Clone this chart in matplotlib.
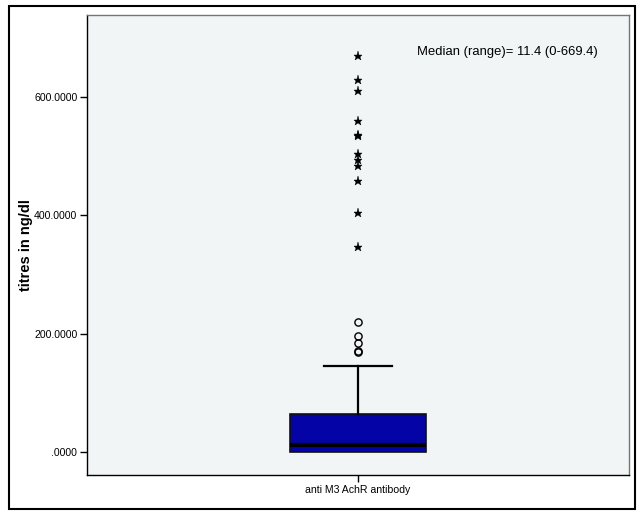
import matplotlib.pyplot as plt
from matplotlib.patches import Rectangle

plt.rcParams['font.family'] = ['Liberation Sans', 'DejaVu Sans']

# ── Data ────────────────────────────────────────────────────────────────────
group_label = "anti M3 AchR antibody"
q1, median, q3 = 0.0, 11.4, 63.5
whisker_lo, whisker_hi = 0.0, 145.0
outliers = [219.0, 196.0, 185.0, 171.0, 168.5]            # circles
extremes = [669.4, 629.0, 610.0, 560.0, 536.0, 534.0,
            503.5, 493.5, 483.0, 458.5, 404.5, 346.0]       # stars
yticks = [0, 200, 400, 600]
note = "Median (range)= 11.4 (0-669.4)"

BG = "#F1F5F5"
BOX = "#0404A6"

fig = plt.figure(figsize=(6.42, 5.18), dpi=100, facecolor='white')
ax = fig.add_axes([87 / 642, 1 - 475 / 518, 542 / 642, 460 / 518])
ax.set_facecolor(BG)

stats = [{
    'med': median, 'q1': q1, 'q3': q3,
    'whislo': whisker_lo, 'whishi': whisker_hi,
    'fliers': [], 'label': group_label,
}]
parts = ax.bxp(stats, positions=[1], widths=0.25, patch_artist=True, showfliers=False,
               boxprops=dict(facecolor=BOX, edgecolor='#111111', linewidth=1.2),
               medianprops=dict(color='black', linewidth=3),
               whiskerprops=dict(color='black', linewidth=1.6),
               capprops=dict(color='black', linewidth=1.6))
# lower whisker collapses onto the box bottom -> no visible cap there
parts['caps'][0].set_visible(False)
parts['whiskers'][0].set_visible(False)

ax.plot([1] * len(outliers), outliers, 'o', ms=5.2, mfc='none', mec='black', mew=1.0)
ax.plot([1] * len(extremes), extremes, '*', ms=6.8, mfc='black', mec='black', mew=0.3)

ax.set_xlim(0.5, 1.5)
ax.set_ylim(-38.9, 738.5)
ax.set_yticks(yticks)
ax.set_yticklabels([f"{v:.4f}".lstrip('0') if v == 0 else f"{v:.4f}" for v in yticks])
ax.set_xticks([1])
ax.set_xticklabels([group_label])
ax.tick_params(axis='both', direction='out', length=5, width=1, labelsize=7.6,
               pad=2, colors='black')
ax.set_ylabel("titres in ng/dl", fontsize=10.5, fontweight='bold')
ax.yaxis.set_label_coords(-0.100, 0.499)

for side in ['left', 'bottom']:
    ax.spines[side].set_color('black')
    ax.spines[side].set_linewidth(1.0)
for side in ['top', 'right']:
    ax.spines[side].set_color('#6E7878')
    ax.spines[side].set_linewidth(1.0)

ax.text(0.608, 0.920, note, transform=ax.transAxes, fontsize=9.4,
        ha='left', va='center')

# outer frame
fig.patches.append(Rectangle((9 / 642, 1 - 509 / 518), 626 / 642, 503 / 518,
                             transform=fig.transFigure, fill=False,
                             edgecolor='black', linewidth=1.5))

fig.savefig("out.png", dpi=100, facecolor='white')
